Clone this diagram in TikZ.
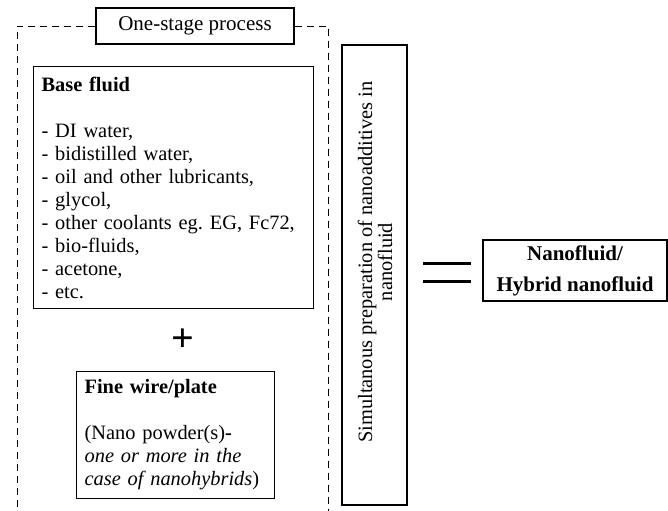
\documentclass[tikz,border=0pt]{standalone}
\usepackage{fontspec}
\setmainfont{Liberation Serif}
\usetikzlibrary{positioning}
\tikzset{
	itembox/.style={rectangle, draw, line width=0.6pt, align=left,
		font=\fontsize{10.2}{11.5}\selectfont, inner sep=4pt},
	titlebox/.style={rectangle, draw, line width=0.6pt, align=center,
		font=\fontsize{10.5}{11.5}\selectfont, inner sep=2pt},
	resultbox/.style={rectangle, draw, line width=0.6pt, align=center,
		font=\fontsize{10.5}{15.5}\selectfont\bfseries, inner sep=2pt},
	framedash/.style={draw, line width=0.5pt, dash pattern=on 3.5pt off 2.5pt}
}

\begin{document}
\frenchspacing
\begin{tikzpicture}[x=0.5pt, y=-0.5pt]
	\useasboundingbox (0,0) rectangle (668,510);
	% one-stage frame
	\node[titlebox, minimum width=99pt, minimum height=18pt] (stage) at (195,26) {One-stage process};
	\coordinate (frameBL) at (17,511);
	\coordinate (frameBR) at (328,511);
	\draw[framedash] (stage.west) -| (frameBL);
	\draw[framedash] (stage.east) -| (frameBR);
	% ingredients
	\node[itembox, anchor=north west, text width=132pt, minimum height=121pt] (base) at (33,66)
		{\textbf{Base fluid}\\[11.5pt]
		- DI water,\\
		- bidistilled water,\\
		- oil and other lubricants,\\
		- glycol,\\
		- other coolants eg. EG, Fc72,\\
		- bio-fluids,\\
		- acetone,\\
		- etc.};
	\node[font=\fontsize{20}{20}\selectfont\bfseries, inner sep=0pt] (plus) at (183,340) {+};
	\node[itembox, anchor=north west, text width=91pt, minimum height=61pt] (wire) at (76,371)
		{\textbf{Fine wire/plate}\\[11.5pt]
		(Nano powder(s)\textbf{-}\\
		\textit{one or more in the}\\
		\textit{case of nanohybrids})};
	% preparation step
	\node[itembox, rotate=90, minimum width=230pt, minimum height=32.5pt] (simul) at (374.5,275) {};
	\node[rotate=90, align=center, font=\fontsize{10.2}{10}\selectfont, inner sep=0pt] (simultext) at (375,262)
		{Simultanous preparation of nanoadditives in\\ nanofluid};
	% result
	\draw[line width=1.5pt] (423,263) -- (471,263);
	\draw[line width=1.5pt] (423,281) -- (471,281);
	\node[resultbox, minimum width=92pt, minimum height=30.5pt] (nano) at (575,270.5) {Nanofluid/\\Hybrid nanofluid};
\end{tikzpicture}
\end{document}
